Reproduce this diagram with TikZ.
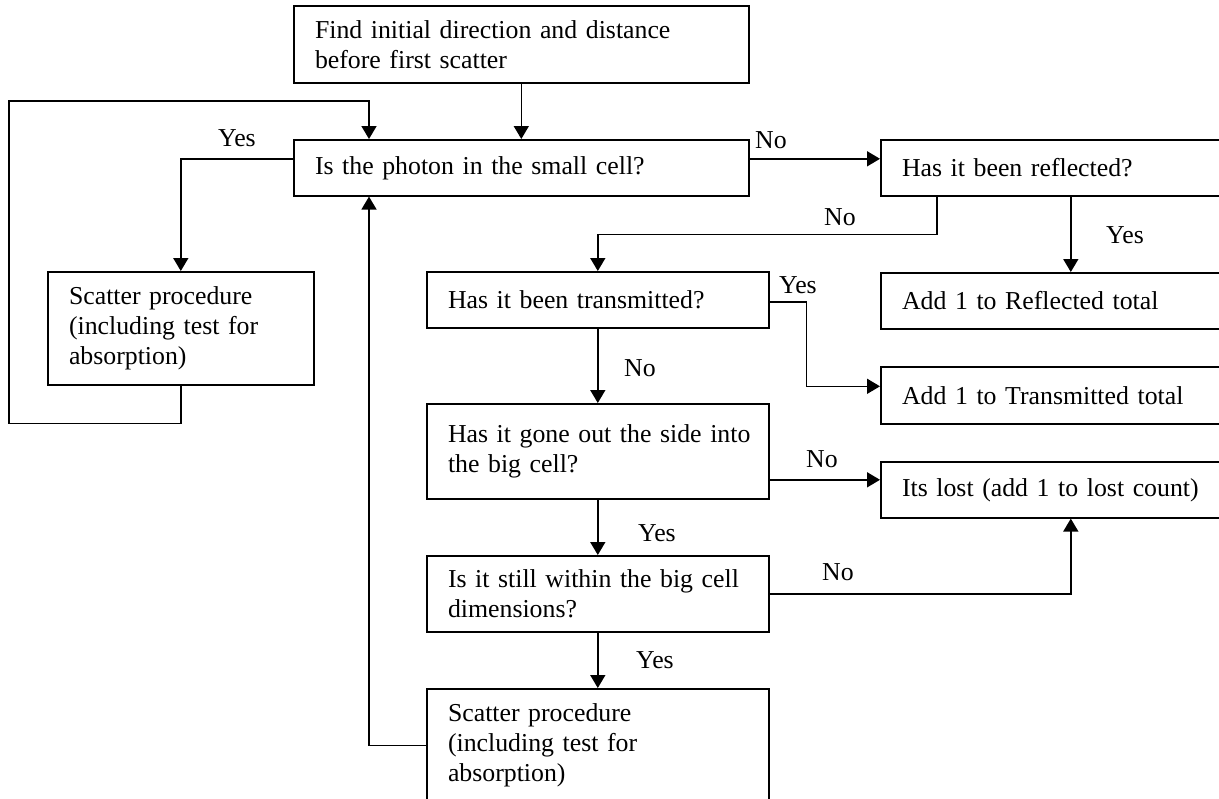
\documentclass[tikz,border=0pt]{standalone}
\usepackage{fontspec}
\setmainfont{Liberation Serif}
\usetikzlibrary{arrows.meta}

\begin{document}
\begin{tikzpicture}[x=0.5pt,y=-0.5pt,line width=0.8pt]
        % Styles
        \tikzstyle{box}=[draw,rectangle,anchor=north west,inner xsep=10.6pt,inner ysep=0pt,align=left,font=\fontsize{12.9}{15}\selectfont]
        \tikzstyle{answer}=[inner sep=0pt,font=\fontsize{12.9}{15}\selectfont]
        \tikzstyle{flow}=[-{Triangle[length=6.5pt,width=7.5pt]}]
        %page
        \clip (0,0) rectangle (1219,798);
        %boxes
        \node[box,text width=206.3pt,minimum height=38.5pt] (find) at (293,5) {Find initial direction and distance\\before first scatter};
        \node[box,text width=206.3pt,minimum height=28pt] (small) at (293,139) {Is the photon in the small cell?};
        \node[box,text width=168.8pt,minimum height=28pt] (refl) at (880,139) {Has it been reflected?};
        \node[box,text width=111.8pt,minimum height=56.5pt] (scatA) at (47,271) {Scatter procedure\\(including test for\\absorption)};
        \node[box,text width=149.8pt,minimum height=28pt] (trans) at (426,271) {Has it been transmitted?};
        \node[box,text width=168.8pt,minimum height=28pt] (addR) at (880,272) {Add 1 to Reflected total};
        \node[box,text width=168.8pt,minimum height=28.5pt] (addT) at (880,366) {Add 1 to Transmitted total};
        \node[box,text width=149.8pt,minimum height=47.5pt] (side) at (426,403) {\mbox{Has it gone out the side into}\\the big cell?};
        \node[box,text width=168.8pt,minimum height=28pt] (lost) at (880,461) {Its lost (add 1 to lost count)};
        \node[box,text width=149.8pt,minimum height=38pt] (within) at (426,555) {Is it still within the big cell\\dimensions?};
        \node[box,text width=149.8pt,minimum height=56.5pt] (scatB) at (426,688) {Scatter procedure\\(including test for\\absorption)};
        \coordinate (loop) at (369,0);
        %arrows
        \draw[flow] (find) -- (small);
        \draw[flow] (scatA.south) -- ++(0,38) -| (9,101) -| (loop |- small.north);
        \draw[flow] ([yshift=4.5pt]small.west) -| (scatA);
        \draw[flow] ([yshift=4.5pt]small.east) -- ([yshift=4.5pt]refl.west);
        \draw[flow] ([xshift=28.5pt]refl.south west) -- ++(0,38) -| (trans);
        \draw[flow] (refl) -- (addR);
        \draw[flow] ([yshift=-1pt]trans.east) -- ++(37,0) |- ([yshift=4.5pt]addT.west);
        \draw[flow] (trans) -- (side);
        \draw[flow] ([yshift=5pt]lost.west -| side.east) -- ([yshift=5pt]lost.west);
        \draw[flow] (side) -- (within);
        \draw[flow] (within) -| (lost);
        \draw[flow] (within) -- (scatB);
        \draw[flow] (scatB.west) -| (loop |- small.south);
        %answers
        \node[answer] (yesA) at (237,138) {Yes};
        \node[answer] (noA) at (771,140) {No};
        \node[answer] (noB) at (840,217) {No};
        \node[answer] (yesB) at (1125,235) {Yes};
        \node[answer] (yesC) at (798,285) {Yes};
        \node[answer] (noC) at (640,368) {No};
        \node[answer] (noD) at (822,459) {No};
        \node[answer] (yesD) at (657,533) {Yes};
        \node[answer] (noE) at (838,572) {No};
        \node[answer] (yesE) at (655,660) {Yes};
\end{tikzpicture}
\end{document}
